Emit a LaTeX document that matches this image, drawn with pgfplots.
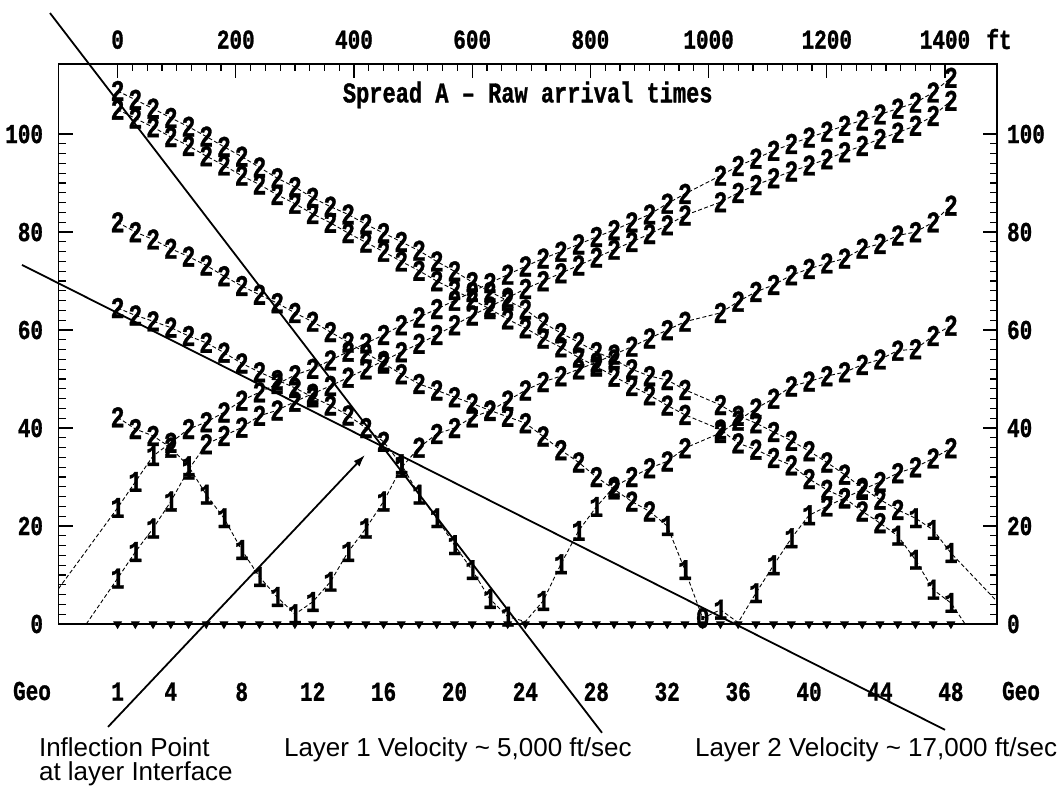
\documentclass[border=0pt]{standalone}
\usepackage{fontspec}
\setmainfont{Liberation Sans}
\newfontfamily\lmono{Liberation Mono}[BoldFeatures={FakeBold=1.2}]
\usepackage{graphicx}
\usepackage{pgfplots}
\pgfplotsset{compat=1.18}
\usetikzlibrary{arrows.meta}

% bitmap-like plotter font
\newcommand\mono{\lmono\bfseries\fontsize{10.5}{12}\selectfont}
\newcommand\T[1]{\scalebox{1}[1.3]{#1}}
\newcommand\gl[1]{{\lmono\bfseries\fontsize{12.5}{13}\selectfont\scalebox{0.92}[1.2]{#1}}}
\newcommand\note{\fontsize{13}{15}\selectfont}

\pgfplotsset{
  shot/.style={
    black, line width=0.45pt, dash pattern=on 2pt off 1.2pt,
    scatter, point meta=explicit symbolic,
    scatter/classes={
      a={mark=text, text mark={\gl{1}}},
      b={mark=text, text mark={\gl{2}}},
      z={mark=text, text mark={\gl{0}}},
      n={mark=text, text mark={}}},
  },
  frame/.style={
    scale only axis, width=469.25pt, height=280pt,
    xmin=-100, xmax=1488, ymin=0, ymax=114.3,
  },
}

% off-end shot, left
\pgfplotstableread{
x y c
-100 7.2 n
0 23.7 a
30 29.0 a
60 34.3 a
90 37.0 b
120 39.8 b
150 41.2 b
180 43.2 b
210 45.6 b
240 47.3 b
270 49.0 b
300 50.8 b
330 52.1 b
360 53.8 b
390 55.6 b
420 57.3 b
450 59.0 b
480 61.0 b
510 62.6 b
540 64.3 b
570 66.0 b
600 67.8 b
630 69.6 b
660 71.3 b
690 73.0 b
720 74.6 b
750 76.0 b
780 77.5 b
810 79.0 b
840 80.4 b
870 82.0 b
900 83.6 b
930 85.8 b
960 87.8 b
1020 91.5 b
1050 93.5 b
1080 95.0 b
1110 96.6 b
1140 98.0 b
1170 99.3 b
1200 100.5 b
1230 101.7 b
1260 102.8 b
1290 104.0 b
1320 105.2 b
1350 106.4 b
1380 108.5 b
1410 111.5 b
}\shotA

% end shot, left
\pgfplotstableread{
x y c
-53 0 n
0 9.3 a
30 14.7 a
60 19.5 a
90 25.0 a
120 31.5 a
150 36.7 b
180 38.4 b
210 40.1 b
240 42.5 b
270 43.6 b
300 45.4 b
330 47.0 b
360 48.6 b
390 50.3 b
420 52.0 b
450 53.7 b
480 55.5 b
510 57.2 b
540 59.0 b
570 61.0 b
600 63.0 b
630 64.8 b
660 66.6 b
690 68.4 b
720 70.0 b
750 71.6 b
780 73.2 b
810 74.8 b
840 76.4 b
870 78.0 b
900 79.6 b
930 81.4 b
960 83.4 b
1020 86.1 b
1050 88.0 b
1080 89.6 b
1110 91.0 b
1140 92.4 b
1170 93.6 b
1200 94.9 b
1230 96.3 b
1260 97.6 b
1290 99.0 b
1320 100.3 b
1350 101.7 b
1380 103.7 b
1410 106.8 b
}\shotB

% shot near geophone 11-12
\pgfplotstableread{
x y c
0 42.2 b
30 39.8 b
60 38.4 b
90 36.0 b
120 32.2 a
150 26.4 a
180 21.6 a
210 15.1 a
240 9.6 a
270 5.5 a
300 2.0 a
330 4.5 a
360 8.6 a
390 14.7 a
420 19.5 a
450 25.0 a
480 31.9 a
510 36.0 b
540 38.8 b
570 40.0 b
600 42.2 b
630 43.5 b
660 45.6 b
690 47.7 b
720 49.4 b
750 50.6 b
780 52.0 b
810 53.4 b
840 55.0 b
870 56.6 b
900 58.3 b
930 60.0 b
960 61.7 b
1020 63.5 b
1050 65.8 b
1080 67.8 b
1110 69.2 b
1140 71.2 b
1170 72.5 b
1200 73.6 b
1230 74.6 b
1260 76.6 b
1290 77.6 b
1320 79.3 b
1350 80.0 b
1380 82.0 b
1410 85.4 b
}\shotC

% centre shot
\pgfplotstableread{
x y c
0 64.5 b
30 63.0 b
60 61.8 b
90 60.5 b
120 58.8 b
150 57.4 b
180 55.4 b
210 53.2 b
240 51.4 b
270 49.8 b
300 48.2 b
330 46.3 b
360 44.6 b
390 42.6 b
420 40.0 b
450 37.2 b
480 32.6 a
510 26.4 a
540 21.6 a
570 16.1 a
600 11.0 a
630 5.1 a
660 1.5 a
690 0.5 n
720 4.7 a
750 12.2 a
780 19.0 a
810 23.9 a
840 28.0 b
870 30.0 b
900 31.8 b
930 33.2 b
960 35.9 b
1020 39.0 b
1050 41.5 b
1080 44.0 b
1110 46.0 b
1140 48.5 b
1170 49.5 b
1200 50.6 b
1230 51.4 b
1260 52.9 b
1290 54.0 b
1320 55.8 b
1350 56.1 b
1380 58.8 b
1410 60.9 b
}\shotD

% shot near geophone 36
\pgfplotstableread{
x y c
0 82.0 b
30 80.0 b
60 78.5 b
90 76.6 b
120 75.0 b
150 73.2 b
180 71.0 b
210 69.0 b
240 67.2 b
270 65.5 b
300 63.5 b
330 61.7 b
360 59.6 b
390 57.5 b
420 55.3 b
450 53.2 b
480 51.0 b
510 49.0 b
540 47.7 b
570 46.3 b
600 45.0 b
630 43.6 b
660 42.3 b
690 41.0 b
720 38.3 b
750 35.5 b
780 33.0 b
810 30.0 b
840 27.5 b
870 25.0 b
900 23.0 b
930 20.0 a
960 11.0 a
990 1.2 z
1020 2.9 a
1050 0.3 n
1080 6.3 a
1110 12.0 a
1140 17.5 a
1170 22.2 a
1200 24.0 b
1230 25.7 b
1260 27.4 b
1290 29.0 b
1320 30.8 b
1350 32.0 b
1380 33.8 b
1410 35.9 b
}\shotE

% end shot, right
\pgfplotstableread{
x y c
0 105.0 b
30 103.2 b
60 101.4 b
90 99.4 b
120 97.6 b
150 95.5 b
180 93.6 b
210 91.5 b
240 89.7 b
270 87.6 b
300 85.8 b
330 83.7 b
360 81.9 b
390 79.8 b
420 77.9 b
450 76.0 b
480 74.0 b
510 72.1 b
540 70.0 b
570 68.2 b
600 66.2 b
630 64.3 b
660 62.2 b
690 60.4 b
720 58.3 b
750 56.5 b
780 54.4 b
810 52.6 b
840 50.5 b
870 48.6 b
900 46.7 b
930 44.6 b
960 42.7 b
1020 39.7 b
1050 36.9 b
1080 35.6 b
1110 33.9 b
1140 32.4 b
1170 29.6 b
1200 27.4 b
1230 25.7 b
1260 23.0 b
1290 20.6 b
1320 18.0 a
1350 13.1 a
1380 7.0 a
1410 4.3 a
1434 0 n
}\shotF

% off-end shot, right
\pgfplotstableread{
x y c
0 108.8 b
30 107.0 b
60 105.2 b
90 103.3 b
120 101.5 b
150 99.5 b
180 97.4 b
210 95.4 b
240 93.2 b
270 91.0 b
300 89.2 b
330 87.0 b
360 85.2 b
390 83.6 b
420 81.6 b
450 79.8 b
480 78.0 b
510 76.2 b
540 74.0 b
570 72.0 b
600 69.8 b
630 67.8 b
660 66.0 b
690 64.2 b
720 61.5 b
750 59.4 b
780 57.5 b
810 55.5 b
840 54.0 b
870 52.0 b
900 50.6 b
930 49.8 b
960 47.8 b
1020 44.7 b
1050 42.5 b
1080 41.0 b
1110 39.2 b
1140 37.4 b
1170 35.3 b
1200 33.0 b
1230 30.5 b
1260 27.8 b
1290 25.4 b
1320 23.3 b
1350 21.6 a
1380 19.2 a
1410 14.5 a
1488 4.6 n
}\shotG

\begin{document}
\begin{tikzpicture}
\begin{axis}[
  frame,
  axis line style={line width=0.8pt},
  xtick={0,200,400,600,800,1000,1200,1400},
  xticklabels={\T{0},\T{200},\T{400},\T{600},\T{800},\T{1000},\T{1200},\T{1400}},
  xtick pos=right, xticklabel pos=right,
  minor x tick num=7,
  ytick={0,20,40,60,80,100},
  yticklabels={\T{0},\T{20},\T{40},\T{60},\T{80},\T{100}},
  ytick pos=both, yticklabel pos=left,
  minor y tick num=9,
  tick align=inside,
  major tick length=7pt, minor tick length=3.5pt,
  tick style={black, line width=0.6pt},
  ticklabel style={font=\mono},
  xticklabel style={yshift=4pt},
  yticklabel style={xshift=-4.2pt},
  clip=false,
]
\addplot[shot] table[meta=c] {\shotA};
\addplot[shot] table[meta=c] {\shotB};
\addplot[shot] table[meta=c] {\shotC};
\addplot[shot] table[meta=c] {\shotD};
\addplot[shot] table[meta=c] {\shotE};
\addplot[shot] table[meta=c] {\shotF};
\addplot[shot] table[meta=c] {\shotG};

% geophone positions
\addplot[only marks, mark=triangle*, mark size=2.2pt, mark options={rotate=180, black}]
coordinates {(0,0) (30,0) (60,0) (90,0) (120,0) (150,0) (180,0) (210,0) (240,0) (270,0)
(300,0) (330,0) (360,0) (390,0) (420,0) (450,0) (480,0) (510,0) (540,0) (570,0)
(600,0) (630,0) (660,0) (690,0) (720,0) (750,0) (780,0) (810,0) (840,0) (870,0)
(900,0) (930,0) (960,0) (990,0) (1020,0) (1050,0) (1080,0) (1110,0) (1140,0) (1170,0)
(1200,0) (1230,0) (1260,0) (1290,0) (1320,0) (1350,0) (1380,0) (1410,0)};

% velocity fits and arrow
\addplot[black, line width=0.9pt, mark=none] coordinates {(-114.4,124.7) (819.6,-22.2)};
\addplot[black, line width=0.9pt, mark=none] coordinates {(-161.8,73.3) (1400,-21.6)};
\addplot[black, line width=0.9pt, mark=none, -{Latex[length=6pt,width=4pt]}]
  coordinates {(-16.2,-21.0) (418.6,34.5)};

\node[font=\lmono\bfseries\fontsize{11}{12}\selectfont] at ([yshift=-15.5pt]rel axis cs:0.5,1) {\T{Spread A – Raw arrival times}};
\node[font=\mono] at ([xshift=1pt, yshift=12.5pt]rel axis cs:1,1) {\T{ft}};
\node[font=\mono] at ([xshift=-13.25pt, yshift=-33.5pt]rel axis cs:0,0) {\T{Geo}};
\node[font=\mono] at ([xshift=12pt, yshift=-33.5pt]rel axis cs:1,0) {\T{Geo}};

\node[font=\note, anchor=base west] at ([xshift=-13.25pt, yshift=-66pt]rel axis cs:0,0) {Inflection Point};
\node[font=\note, anchor=base west] at ([xshift=-13.25pt, yshift=-78pt]rel axis cs:0,0) {at layer Interface};
\node[font=\note, anchor=base west] at ([xshift=109.25pt, yshift=-66pt]rel axis cs:0,0) {Layer 1 Velocity \textasciitilde{} 5,000 ft/sec};
\node[font=\note, anchor=base east, inner sep=0pt] at ([xshift=499.5pt, yshift=-66pt]rel axis cs:0,0) {Layer 2 Velocity \textasciitilde{} 17,000 ft/sec};

\coordinate (bbl) at ([xshift=-29.25pt, yshift=-82pt]rel axis cs:0,0);
\coordinate (btr) at ([xshift=31.5pt, yshift=32pt]rel axis cs:1,1);
\end{axis}

\begin{axis}[
  frame,
  axis x line*=bottom, axis y line*=right,
  axis line style={draw=none},
  xtick={0,90,210,330,450,570,690,810,930,1050,1170,1290,1410},
  xticklabels={\T{1},\T{4},\T{8},\T{12},\T{16},\T{20},\T{24},\T{28},\T{32},\T{36},\T{40},\T{44},\T{48}},
  ytick={0,20,40,60,80,100},
  yticklabels={\T{0},\T{20},\T{40},\T{60},\T{80},\T{100}},
  major tick length=0pt, tick style={draw=none},
  ticklabel style={font=\mono},
  xticklabel style={yshift=-25.75pt},
  yticklabel style={xshift=1.5pt},
]
\end{axis}
\pgfresetboundingbox
\useasboundingbox (bbl) rectangle (btr);
\end{tikzpicture}
\end{document}
